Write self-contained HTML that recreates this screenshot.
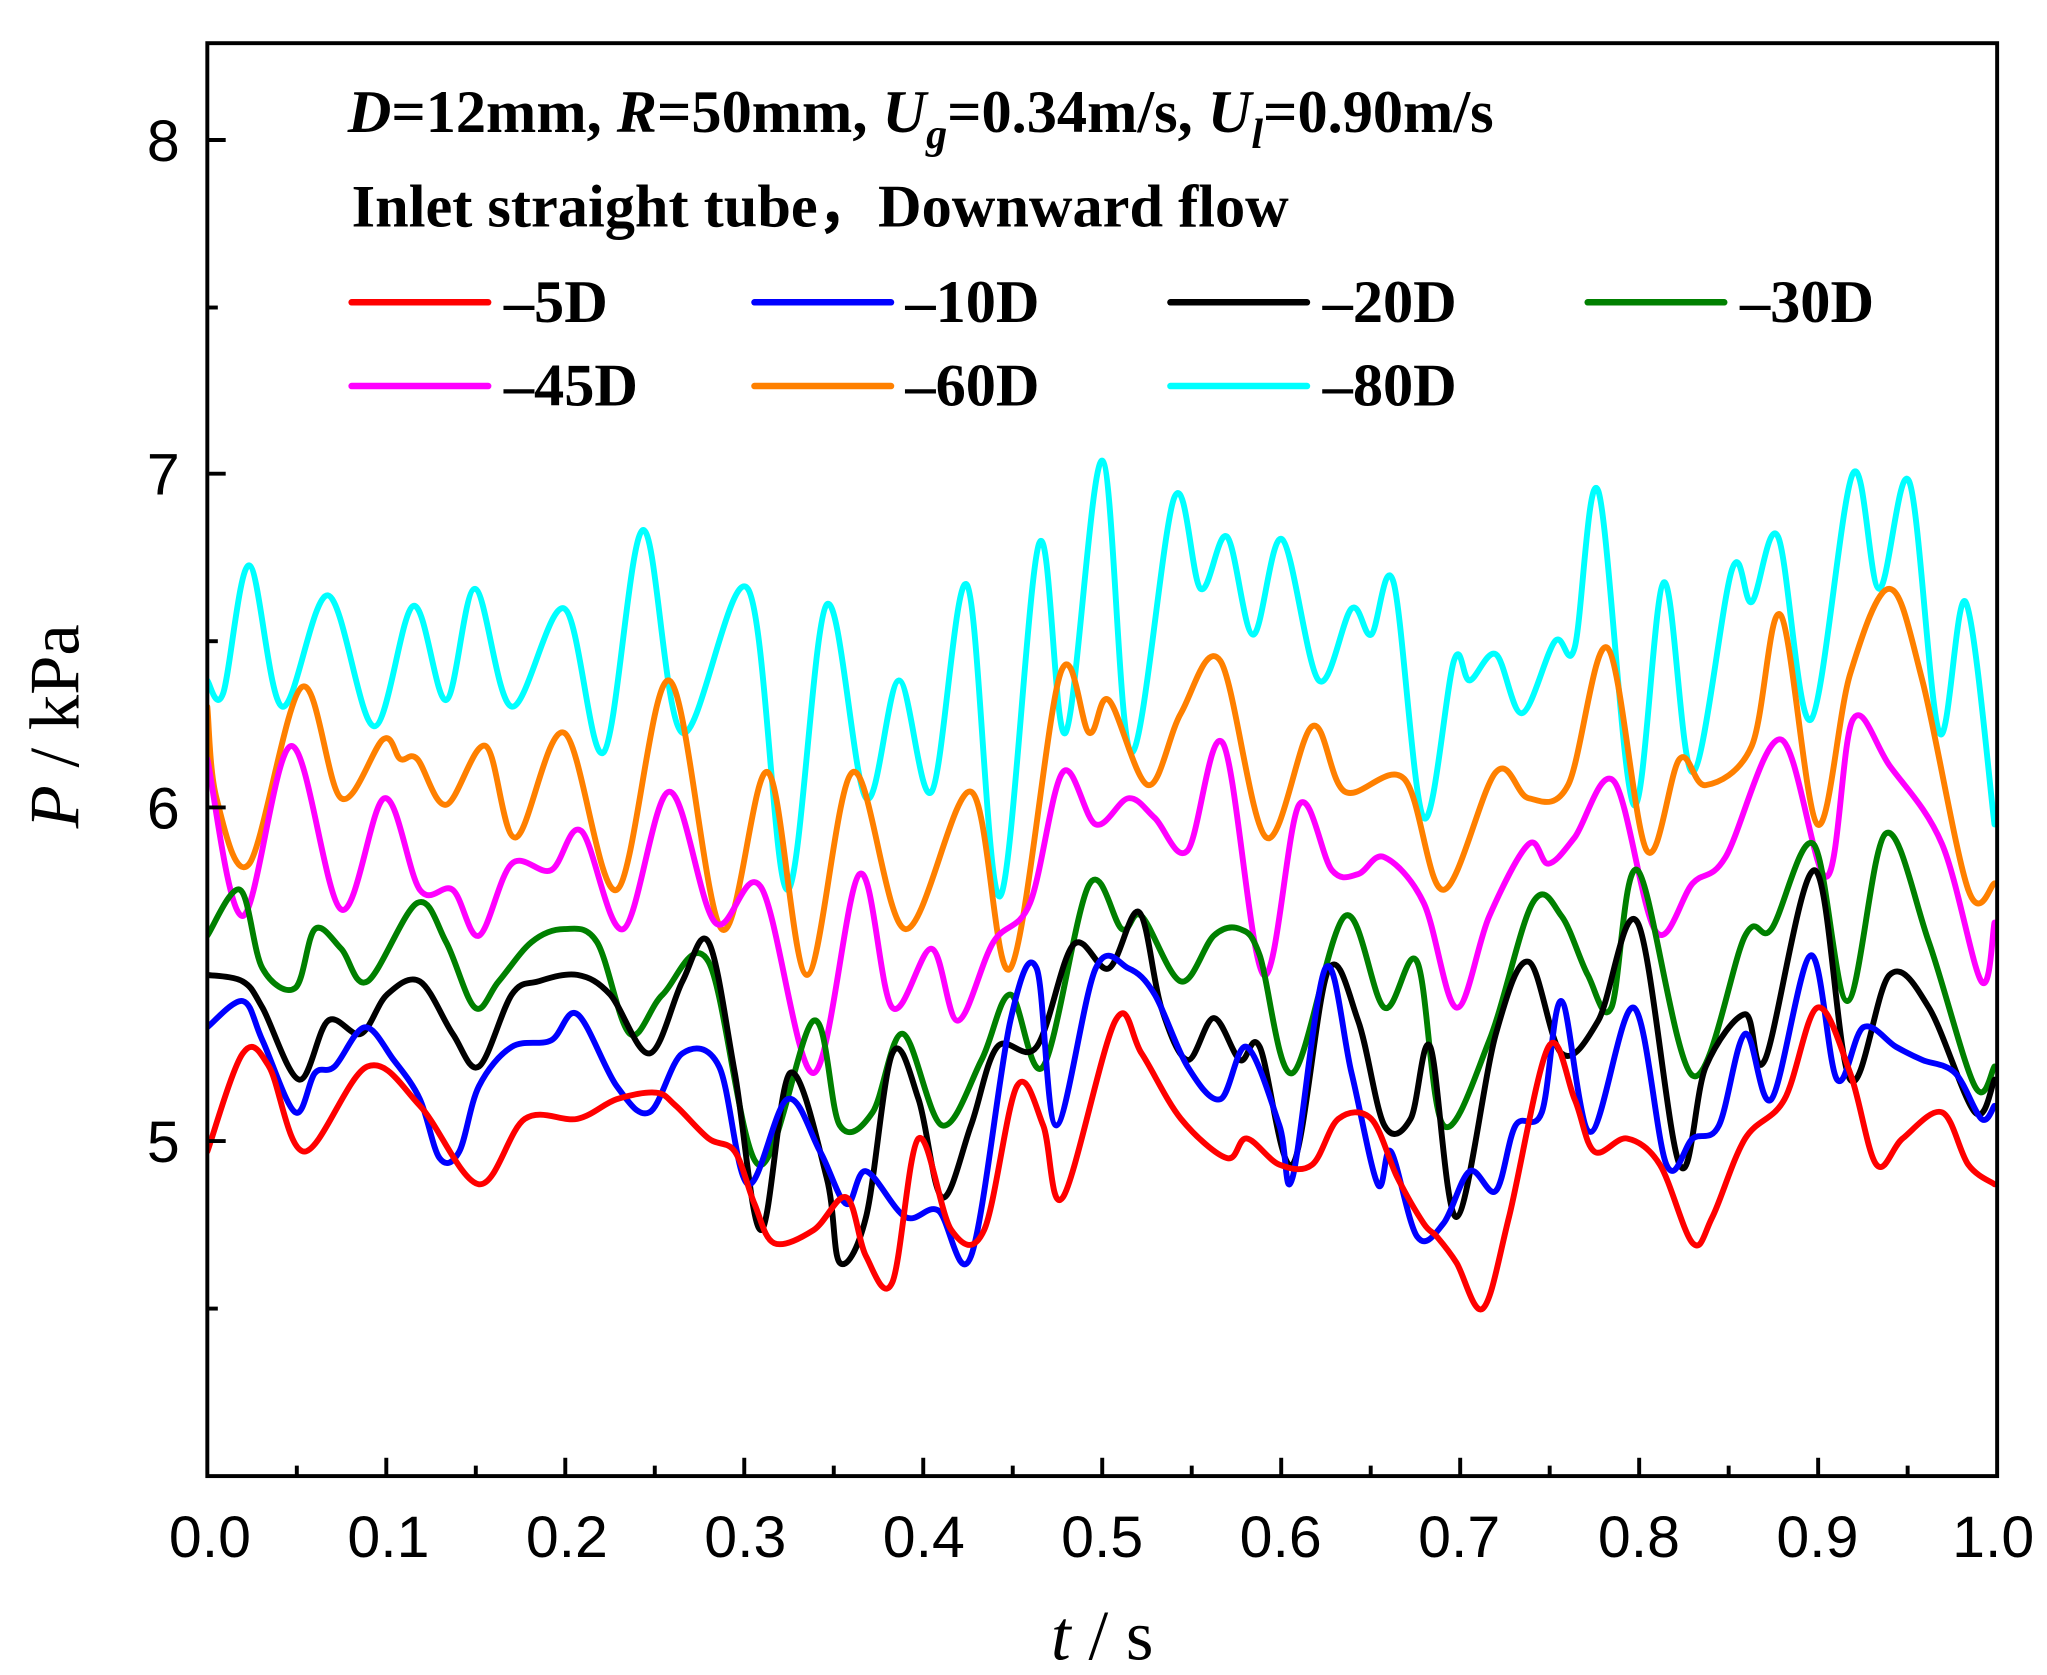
<!DOCTYPE html>
<html><head><meta charset="utf-8"><style>
html,body{margin:0;padding:0;background:#fff;}
svg{display:block;}
.ser{fill:none;stroke-width:4.5;stroke-linejoin:round;stroke-linecap:round;}
.tl{font-family:"Liberation Sans",sans-serif;font-size:45px;fill:#000;}
.lg{font-family:"Liberation Serif",serif;font-weight:bold;font-size:46px;fill:#000;}
</style></head><body>
<svg id="s" width="2047" height="1675" viewBox="0 0 1560 1280" preserveAspectRatio="none" xmlns="http://www.w3.org/2000/svg">
<rect x="0" y="0" width="1560" height="1280" fill="#fff"/>
<defs><clipPath id="c"><rect x="158" y="33" width="1364" height="1095"/></clipPath></defs>
<g clip-path="url(#c)">
<polyline class="ser" stroke="#00ffff" points="158,520 170,530 190,432 215,540 250,455 285,555 315,463 340,535 362,450 390,540 430,465 460,575 490,405 520,560 570,450 600,680 630,462 660,610 685,520 710,605 737,447 762,685 792,415 812,560 840,352 862,575 895,380 915,450 935,410 955,485 977,412 1005,520 1030,465 1045,485 1062,445 1085,625 1108,505 1120,520 1140,500 1160,545 1185,490 1200,495 1218,375 1245,615 1268,445 1290,590 1320,435 1335,460 1355,410 1380,550 1412,362 1432,450 1455,368 1478,560 1498,460 1520,630"/>
<polyline class="ser" stroke="#ff8000" points="158,540 165,610 190,660 230,525 260,610 292,565 305,580 318,580 340,615 370,570 393,640 430,560 470,680 510,520 550,710 585,590 615,745 650,590 690,710 740,605 770,740 808,515 830,560 845,535 875,600 900,545 930,505 965,640 1000,555 1025,605 1070,595 1100,680 1140,590 1165,610 1195,600 1225,495 1255,650 1280,580 1300,600 1335,570 1357,470 1385,630 1410,515 1440,450 1465,520 1500,680 1520,675"/>
<polyline class="ser" stroke="#ff00ff" points="158,580 185,700 222,570 260,695 293,610 320,680 345,680 365,715 390,660 420,665 443,635 475,710 510,605 545,705 580,678 620,820 655,668 680,770 710,725 730,780 757,720 785,690 810,590 835,630 860,610 880,625 905,650 932,568 963,745 990,615 1015,665 1035,668 1055,655 1085,690 1110,770 1135,700 1165,645 1180,660 1200,640 1230,597 1262,712 1290,675 1315,655 1357,565 1392,670 1412,550 1440,585 1480,645 1510,750 1520,705"/>
<polyline class="ser" stroke="#008000" points="158,715 183,680 200,740 225,755 240,710 260,725 280,750 318,690 340,720 362,770 380,750 405,720 430,710 455,720 480,790 505,760 540,735 578,890 620,780 640,860 665,850 688,790 718,860 748,810 770,760 795,815 830,676 855,710 870,700 900,750 925,715 945,710 960,730 985,820 1025,700 1055,770 1080,735 1100,860 1135,795 1168,690 1190,700 1210,745 1228,770 1248,665 1290,822 1330,715 1350,710 1382,645 1408,765 1437,637 1470,720 1505,830 1520,815"/>
<polyline class="ser" stroke="#000000" points="158,745 185,750 200,770 228,825 250,780 275,790 295,760 320,750 345,790 365,815 390,760 410,750 440,745 465,760 495,805 520,750 540,720 560,820 580,940 602,820 630,900 640,965 660,930 680,805 700,840 718,915 740,860 760,800 790,800 818,722 845,740 868,697 885,770 905,810 925,778 945,810 960,800 985,890 1012,742 1035,780 1055,860 1075,855 1090,800 1110,930 1140,790 1165,735 1190,805 1218,780 1248,705 1280,890 1300,815 1330,775 1345,810 1383,665 1410,825 1440,745 1470,770 1505,850 1520,825"/>
<polyline class="ser" stroke="#0000ff" points="158,785 185,765 200,795 225,850 240,820 255,815 278,785 300,810 320,840 335,885 350,880 365,830 390,800 420,795 440,775 470,830 495,850 520,805 548,815 570,905 600,840 625,880 645,920 660,895 690,930 715,925 740,960 770,780 790,740 805,860 835,740 860,740 880,760 905,815 930,840 950,800 975,860 985,900 1010,740 1030,820 1050,905 1060,880 1080,945 1100,935 1120,895 1140,910 1155,860 1175,850 1190,765 1212,865 1245,770 1270,890 1290,870 1310,860 1330,790 1350,840 1380,730 1400,825 1420,785 1445,800 1465,810 1490,820 1510,855 1520,845"/>
<polyline class="ser" stroke="#ff0000" points="158,880 185,805 205,815 232,880 280,815 320,845 365,905 400,855 440,855 470,840 500,835 515,845 540,870 560,880 575,920 590,950 620,940 645,915 660,960 680,980 700,870 725,940 750,940 775,830 795,860 810,915 850,780 870,805 900,855 935,885 950,870 975,890 1000,890 1020,855 1045,855 1065,900 1085,935 1095,945 1110,965 1130,1000 1150,930 1180,800 1200,840 1215,880 1240,870 1265,890 1290,950 1305,930 1330,870 1360,840 1385,770 1410,820 1430,890 1450,870 1480,850 1500,890 1520,905"/>
</g>
<rect x="158" y="33" width="1364" height="1095" fill="none" stroke="#000" stroke-width="3"/>
<g stroke="#000" stroke-width="3">
<line x1="158" y1="107" x2="172" y2="107"/><line x1="158" y1="362" x2="172" y2="362"/><line x1="158" y1="617" x2="172" y2="617"/><line x1="158" y1="872" x2="172" y2="872"/>
<line x1="158" y1="235" x2="166" y2="235"/><line x1="158" y1="490" x2="166" y2="490"/><line x1="158" y1="745" x2="166" y2="745"/><line x1="158" y1="1000" x2="166" y2="1000"/>
<line x1="294.4" y1="1128" x2="294.4" y2="1114"/><line x1="430.8" y1="1128" x2="430.8" y2="1114"/><line x1="567.2" y1="1128" x2="567.2" y2="1114"/><line x1="703.6" y1="1128" x2="703.6" y2="1114"/><line x1="840" y1="1128" x2="840" y2="1114"/><line x1="976.4" y1="1128" x2="976.4" y2="1114"/><line x1="1112.8" y1="1128" x2="1112.8" y2="1114"/><line x1="1249.2" y1="1128" x2="1249.2" y2="1114"/><line x1="1385.6" y1="1128" x2="1385.6" y2="1114"/>
<line x1="226.2" y1="1128" x2="226.2" y2="1120"/><line x1="362.6" y1="1128" x2="362.6" y2="1120"/><line x1="499" y1="1128" x2="499" y2="1120"/><line x1="635.4" y1="1128" x2="635.4" y2="1120"/><line x1="771.8" y1="1128" x2="771.8" y2="1120"/><line x1="908.2" y1="1128" x2="908.2" y2="1120"/><line x1="1044.6" y1="1128" x2="1044.6" y2="1120"/><line x1="1181" y1="1128" x2="1181" y2="1120"/><line x1="1317.4" y1="1128" x2="1317.4" y2="1120"/><line x1="1453.8" y1="1128" x2="1453.8" y2="1120"/>
</g>
<g class="tl" text-anchor="end">
<text x="137" y="123">8</text><text x="137" y="378">7</text><text x="137" y="633">6</text><text x="137" y="888">5</text>
</g>
<g class="tl" text-anchor="middle">
<text x="160" y="1190">0.0</text><text x="296" y="1190">0.1</text><text x="432" y="1190">0.2</text><text x="568" y="1190">0.3</text><text x="704" y="1190">0.4</text><text x="840" y="1190">0.5</text><text x="976" y="1190">0.6</text><text x="1112" y="1190">0.7</text><text x="1249" y="1190">0.8</text><text x="1385" y="1190">0.9</text><text x="1519" y="1190">1.0</text>
</g>
<text x="840" y="1268" text-anchor="middle" style="font-family:'Liberation Serif',serif;font-size:54px"><tspan font-style="italic">t</tspan> / s</text>
<text transform="translate(60,555) rotate(-90)" text-anchor="middle" style="font-family:'Liberation Serif',serif;font-size:54px"><tspan font-style="italic">P</tspan> / kPa</text>
<text class="lg" x="265" y="101"><tspan font-style="italic">D</tspan>=12mm, <tspan font-style="italic">R</tspan>=50mm, <tspan font-style="italic">U</tspan><tspan font-style="italic" font-size="32" dy="12">g</tspan><tspan dy="-12">=0.34m/s, </tspan><tspan font-style="italic">U</tspan><tspan font-style="italic" font-size="32" dy="12">l</tspan><tspan dy="-12">=0.90m/s</tspan></text>
<text class="lg" x="268" y="173">Inlet straight tube，Downward flow</text>
<g stroke-width="5" stroke-linecap="round">
<line x1="268" y1="231" x2="372" y2="231" stroke="#ff0000"/>
<line x1="575" y1="231" x2="679" y2="231" stroke="#0000ff"/>
<line x1="892" y1="231" x2="996" y2="231" stroke="#000000"/>
<line x1="1210" y1="231" x2="1314" y2="231" stroke="#008000"/>
<line x1="268" y1="295" x2="372" y2="295" stroke="#ff00ff"/>
<line x1="575" y1="295" x2="679" y2="295" stroke="#ff8000"/>
<line x1="892" y1="295" x2="996" y2="295" stroke="#00ffff"/>
</g>
<g class="lg">
<text x="384" y="246">–5D</text><text x="690" y="246">–10D</text><text x="1008" y="246">–20D</text><text x="1326" y="246">–30D</text>
<text x="384" y="310">–45D</text><text x="690" y="310">–60D</text><text x="1008" y="310">–80D</text>
</g>
</svg>
<script>
document.querySelectorAll('polyline.ser').forEach(function(pl){
  var p=pl.getAttribute('points').trim().split(/\s+/).map(function(s){return s.split(',').map(Number);});
  var d='M'+p[0][0]+','+p[0][1];
  for(var i=0;i<p.length-1;i++){
    var p0=p[i-1]||p[i],p1=p[i],p2=p[i+1],p3=p[i+2]||p2;
    var c1x=p1[0]+(p2[0]-p0[0])/6,c1y=p1[1]+(p2[1]-p0[1])/6;
    var c2x=p2[0]-(p3[0]-p1[0])/6,c2y=p2[1]-(p3[1]-p1[1])/6;
    d+=' C'+c1x.toFixed(1)+','+c1y.toFixed(1)+' '+c2x.toFixed(1)+','+c2y.toFixed(1)+' '+p2[0]+','+p2[1];
  }
  var path=document.createElementNS('http://www.w3.org/2000/svg','path');
  path.setAttribute('d',d);path.setAttribute('class','ser');path.setAttribute('stroke',pl.getAttribute('stroke'));
  pl.parentNode.replaceChild(path,pl);
});
</script>
</body></html>
